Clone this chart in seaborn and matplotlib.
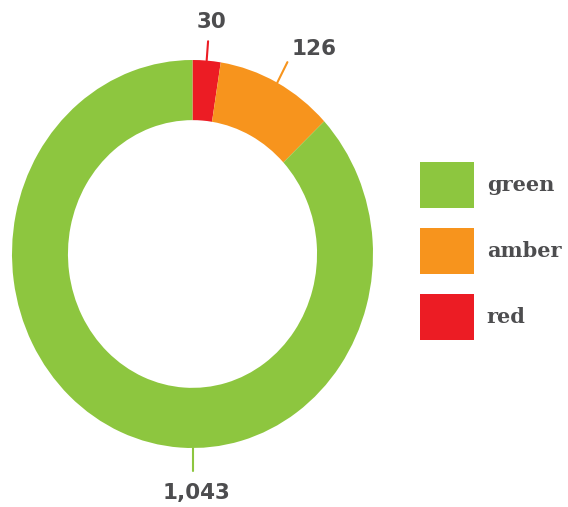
import numpy as np
import seaborn as sns
import matplotlib.pyplot as plt

# Data (drawn clockwise from 12 o'clock)
categories = ['red', 'amber', 'green']
counts = [30, 126, 1043]
colors = ['#EC1C24', '#F7941D', '#8DC63F']
value_labels = ['30', '126', '1,043']
legend_order = ['green', 'amber', 'red']

sns.set_style('white')
plt.rcParams['font.family'] = ['DejaVu Sans']
text_color = '#4D4D4F'

fig = plt.figure(figsize=(5.68, 5.07), dpi=100)
# axes slightly taller than wide, as in the reference ring
ax = fig.add_axes([12 / 568, 59 / 507, 361 / 568, 388 / 507])

wedges, _ = ax.pie(counts, colors=colors, startangle=90, counterclock=False,
                   radius=1.0, wedgeprops=dict(width=0.31, linewidth=0))
ax.set_aspect('auto')
ax.set_xlim(-1, 1)
ax.set_ylim(-1, 1)
ax.axis('off')

# value labels with short leader lines
line_angles = [4.5, 28, 180]      # degrees clockwise from top, where leader starts
text_angles = [5, 32.5, 179]
line_ends = [1.1, 1.12, 1.12]
text_radius = [1.2, 1.25, 1.23]
for i, lab in enumerate(value_labels):
    a = np.deg2rad(line_angles[i])
    x0, y0 = np.sin(a), np.cos(a)
    x1, y1 = line_ends[i] * np.sin(a), line_ends[i] * np.cos(a)
    ax.plot([x0, x1], [y0, y1], color=colors[i], lw=1.5, clip_on=False)
    t = np.deg2rad(text_angles[i])
    ax.text(text_radius[i] * np.sin(t), text_radius[i] * np.cos(t), lab,
            ha='center', va='center', fontsize=15.5, color=text_color,
            fontweight='semibold', clip_on=False)

handles = [wedges[categories.index(c)] for c in legend_order]
leg = fig.legend(handles, legend_order, loc='upper left',
                 bbox_to_anchor=(420 / 568, 1 - 162 / 507),
                 bbox_transform=fig.transFigure, frameon=False,
                 borderpad=0, borderaxespad=0,
                 prop={'family': 'DejaVu Serif', 'size': 15, 'weight': 'bold'},
                 handlelength=2.6, handleheight=3.02,
                 labelspacing=0.96, handletextpad=0.6)
for txt in leg.get_texts():
    txt.set_color(text_color)

plt.savefig('out.png', dpi=100)
plt.close()
